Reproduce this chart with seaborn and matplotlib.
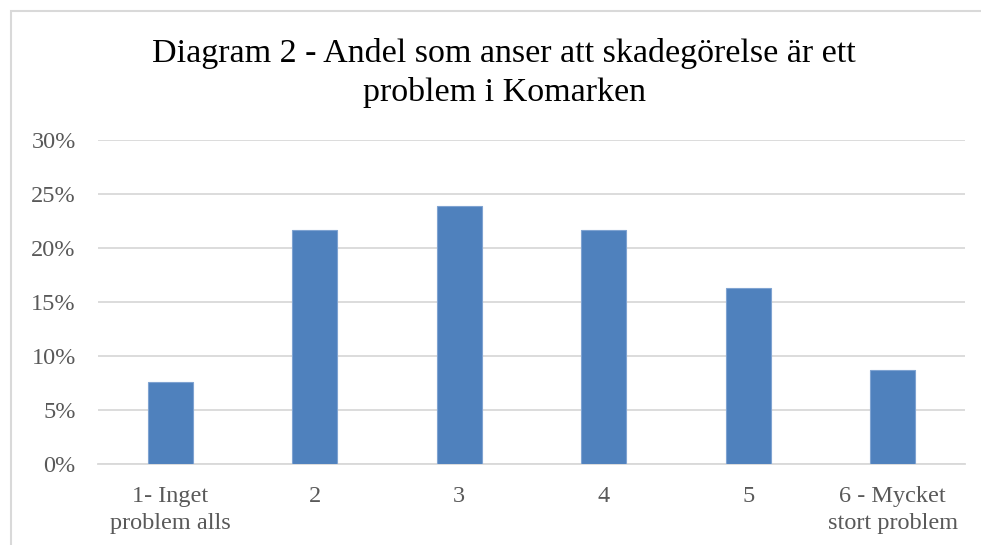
import matplotlib
matplotlib.use("Agg")
import matplotlib.pyplot as plt
import seaborn as sns
import pandas as pd
from matplotlib.patches import Rectangle
from matplotlib.ticker import FuncFormatter

categories = ['1- Inget\nproblem alls', '2', '3', '4', '5', '6 - Mycket\nstort problem']
shares = [0.076, 0.217, 0.239, 0.217, 0.163, 0.087]
title = 'Diagram 2 - Andel som anser att skadegörelse är ett\nproblem i Komarken'

sns.set_style('white')
plt.rcParams['font.family'] = ['Liberation Serif', 'DejaVu Serif']

df = pd.DataFrame({'kat': categories, 'andel': shares})

fig = plt.figure(figsize=(9.81, 5.45), dpi=100)
ax = fig.add_axes([98 / 981, 1 - 464 / 545, (965 - 98) / 981, (464 - 140) / 545])

# chart frame like in Excel
fig.patches.append(Rectangle((11 / 981, -0.1), 1.2, 1.1 - 11 / 545, transform=fig.transFigure,
                             fill=False, edgecolor='#d9d9d9', linewidth=1.5, zorder=0))

sns.barplot(data=df, x='kat', y='andel', color='#4f81bd', width=0.31, saturation=1,
            edgecolor='#7fa3d1', linewidth=0.8, ax=ax, zorder=3)

ax.set_ylim(0, 0.30)
ax.set_yticks([0, 0.05, 0.10, 0.15, 0.20, 0.25, 0.30])
ax.yaxis.set_major_formatter(FuncFormatter(lambda v, p: '%d%%' % round(v * 100)))
ax.grid(axis='y', color='#d9d9d9', linewidth=1.3, zorder=0)
ax.set_axisbelow(True)
for s in ['top', 'right', 'left']:
    ax.spines[s].set_visible(False)
ax.spines['bottom'].set_color('#d9d9d9')
ax.spines['bottom'].set_linewidth(1.3)
ax.set_xlabel('')
ax.set_ylabel('')
ax.tick_params(axis='both', length=0, labelsize=17.5, labelcolor='#595959')
ax.tick_params(axis='y', pad=16)
ax.tick_params(axis='x', pad=16)
for lab in ax.get_xticklabels():
    lab.set_linespacing(1.35)

fig.text(0.514, 0.93, title, ha='center', va='top', fontsize=24.5, color='#000000',
         linespacing=1.32)

fig.savefig('out.png', dpi=100, facecolor='white')
